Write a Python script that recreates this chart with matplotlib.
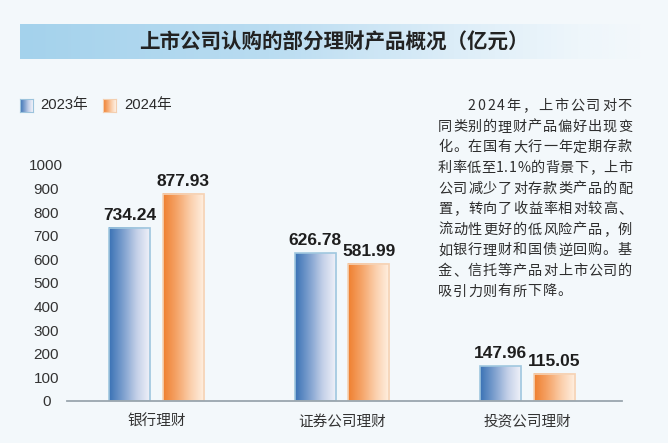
import numpy as np
import matplotlib
matplotlib.use("Agg")
import matplotlib.pyplot as plt
from matplotlib.colors import LinearSegmentedColormap
from matplotlib.font_manager import FontProperties
from matplotlib.textpath import TextToPath

# ---------------- data ----------------
categories = ["银行理财", "证券公司理财", "投资公司理财"]
series_names = ["2023年", "2024年"]
values_2023 = [734.24, 626.78, 147.96]
values_2024 = [877.93, 581.99, 115.05]
yticks = list(range(0, 1001, 100))
title = "上市公司认购的部分理财产品概况（亿元）"
note_lines = [
    "　　2024年，上市公司对不",
    "同类别的理财产品偏好出现变",
    "化。在国有大行一年定期存款",
    "利率低至1.1%的背景下，上市",
    "公司减少了对存款类产品的配",
    "置，转向了收益率相对较高、",
    "流动性更好的低风险产品，例",
    "如银行理财和国债逆回购。基",
    "金、信托等产品对上市公司的",
    "吸引力则有所下降。",
]

# ---------------- style ----------------
W, H = 668, 443
BG = "#f3f8fb"
CJK = ["Noto Sans CJK SC", "DejaVu Sans"]
NUM = ["Liberation Sans", "Noto Sans CJK SC"]
plt.rcParams["font.family"] = CJK

blue_cmap = LinearSegmentedColormap.from_list("b", ["#3a72b5", "#7c9fce", "#c4d0e8", "#f2f3fa"])
orange_cmap = LinearSegmentedColormap.from_list("o", ["#ef7f2f", "#f5a56a", "#fbd0ad", "#fff1e4"])
banner_cmap = LinearSegmentedColormap.from_list(
    "t", [(0, "#a4d2ec"), (0.4, "#b9dcf1"), (0.7, "#dcedf8"), (0.9, "#eef6fb"), (1.0, BG)])

fig = plt.figure(figsize=(W / 100, H / 100), dpi=100)
fig.patch.set_facecolor(BG)


def px_rect(x0, y0, x1, y1):
    """pixel box (top-left origin) -> figure fraction rect"""
    return [x0 / W, 1 - y1 / H, (x1 - x0) / W, (y1 - y0) / H]


# ---------------- title banner ----------------
bax = fig.add_axes(px_rect(20, 24, 641, 59))
bax.imshow(np.linspace(0, 1, 256)[None, :], cmap=banner_cmap, aspect="auto",
           extent=[0, 1, 0, 1])
bax.set_axis_off()
fig.text(334 / W, 1 - 42.5 / H, title, ha="center", va="center",
         fontsize=14.8, fontweight="bold", color="#222222", family=CJK)

# ---------------- legend ----------------
for (x0, cmap, edge), name, tx in zip(
        [(20, blue_cmap, "#9cc3dc"), (103, orange_cmap, "#f3cfb0")],
        series_names, [40, 124]):
    lax = fig.add_axes(px_rect(x0, 99, x0 + 13, 112))
    lax.imshow(np.linspace(0, 1, 64)[None, :], cmap=cmap, aspect="auto", extent=[0, 1, 0, 1])
    lax.set_xticks([]); lax.set_yticks([])
    for s in lax.spines.values():
        s.set_color(edge); s.set_linewidth(0.8)
    fig.text(tx / W, 1 - 105.5 / H, name, ha="left", va="center",
             fontsize=10.6, color="#2a2a2a", family=NUM)

# ---------------- main axes ----------------
ax = fig.add_axes(px_rect(67, 165, 622, 401))
ax.set_facecolor("none")
x = np.arange(len(categories))
bw = 0.221
off = 0.144
bars_a = ax.bar(x - off, values_2023, bw, color="none", edgecolor="none")
bars_b = ax.bar(x + off, values_2024, bw, color="none", edgecolor="none")

grad = np.linspace(0, 1, 128)[None, :]
for bars, cmap, edge in [(bars_a, blue_cmap, "#9fc7df"), (bars_b, orange_cmap, "#f5d3b6")]:
    for b in bars:
        x0, w, h = b.get_x(), b.get_width(), b.get_height()
        ax.imshow(grad, cmap=cmap, aspect="auto", extent=[x0, x0 + w, 0, h],
                  zorder=2, interpolation="bicubic")
        b.set_edgecolor(edge)
        b.set_linewidth(1.2)
        b.set_zorder(3)
        ax.annotate(f"{h:.2f}", (x0 + w / 2, h), xytext=(0, 5.5), textcoords="offset points",
                    ha="center", va="baseline", fontsize=12.5, fontweight="bold",
                    color="#1e1e1e", family=NUM, annotation_clip=False)

ax.set_xlim(-0.482, 2.509)
ax.set_ylim(0, 1000)
ax.set_yticks(yticks)
ax.set_yticklabels([str(t) for t in yticks], family=NUM, fontsize=11, color="#333333")
for lab in ax.get_yticklabels():
    lab.set_horizontalalignment("center")
ax.tick_params(axis="y", length=0, pad=15)
ax.set_xticks(x)
ax.set_xticklabels(categories, family=CJK, fontsize=10.5, color="#333333")
ax.tick_params(axis="x", length=0, pad=10)
for s in ["left", "right", "top"]:
    ax.spines[s].set_visible(False)
ax.spines["bottom"].set_color("#9aa6ae")
ax.spines["bottom"].set_linewidth(1.3)
ax.spines["bottom"].set_zorder(4)

# ---------------- note text (justified, char by char) ----------------
fs_pt = 10.2
em = fs_pt * 100 / 72  # px
prop = FontProperties(family="Noto Sans CJK SC", size=fs_pt)
t2p = TextToPath()


def char_width(c):
    if ord(c) >= 128:
        return em
    w, _, _ = t2p.get_text_width_height_descent(c, prop, ismath=False)
    return w * 100 / 72


left, right = 438, 632
line_gap = 20.6
first_center = 105
unit = (right - left) / 13
for i, line in enumerate(note_lines):
    stripped = line.lstrip("　")
    indent = len(line) - len(stripped)
    start = left + indent * unit
    chars = list(stripped)
    widths = [char_width(c) for c in chars]
    natural = sum(widths)
    last = (i == len(note_lines) - 1)
    if last or len(chars) < 2:
        gap = unit - em
    else:
        gap = (right - start - natural) / (len(chars) - 1)
    xc = start
    yb = first_center + i * line_gap + 0.36 * em
    for c, w in zip(chars, widths):
        fig.text(xc / W, 1 - yb / H, c, ha="left", va="baseline",
                 fontsize=fs_pt, color="#2e2e2e", family=CJK)
        xc += w + gap

fig.savefig("out.png", dpi=100, facecolor=BG)
